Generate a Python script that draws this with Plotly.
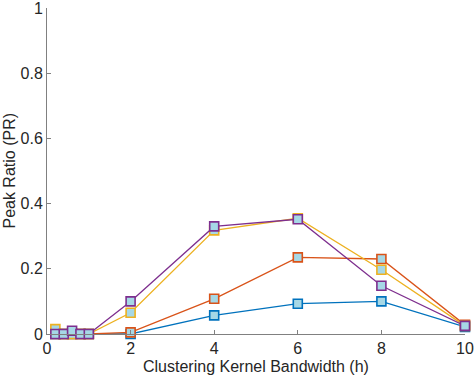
import plotly.graph_objects as go

bandwidth = [0.2, 0.4, 0.6, 0.8, 1, 2, 4, 6, 8, 10]
pr_blue = [0, 0, 0, 0, 0, 0.0, 0.057, 0.093, 0.100, 0.022]
pr_orange = [0, 0, 0, 0, 0, 0.005, 0.108, 0.235, 0.230, 0.028]
pr_yellow = [0.015, 0, 0, 0, 0, 0.065, 0.318, 0.355, 0.197, 0.025]
pr_purple = [0, 0, 0.01, 0, 0, 0.100, 0.330, 0.352, 0.148, 0.025]

x_ticks = [0, 2, 4, 6, 8, 10]
y_ticks = [0, 0.2, 0.4, 0.6, 0.8, 1]

C_FACE = "#a6d8e6"
C_AXIS = "#808080"
C_TEXT = "#262626"

series = [
    (pr_blue, "#0072BD"),
    (pr_orange, "#D95319"),
    (pr_yellow, "#EDB120"),
    (pr_purple, "#7E2F8E"),
]

fig = go.Figure()
for vals, color in series:
    fig.add_trace(go.Scatter(
        x=bandwidth,
        y=vals,
        mode="lines+markers",
        line=dict(color=color, width=1.3),
        marker=dict(symbol="square", size=9, color=C_FACE,
                    line=dict(color=color, width=1.6)),
        cliponaxis=False,
        showlegend=False,
    ))

axis_common = dict(
    showgrid=False,
    zeroline=False,
    showline=True,
    linecolor=C_AXIS,
    linewidth=1,
    ticks="inside",
    ticklen=4,
    tickcolor=C_AXIS,
    tickfont=dict(size=16, color=C_TEXT),
    ticklabeloverflow="allow",
    mirror=False,
    automargin=False,
)

fig.update_layout(
    width=476,
    height=382,
    paper_bgcolor="white",
    plot_bgcolor="white",
    margin=dict(l=47, r=11, t=8, b=48),
    font=dict(family="Liberation Sans, Arial, sans-serif", color=C_TEXT),
    xaxis=dict(
        range=[0, 10],
        tickvals=x_ticks,
        ticktext=[str(v) for v in x_ticks],
        **axis_common,
    ),
    yaxis=dict(
        range=[0, 1],
        tickvals=y_ticks,
        ticktext=["0", "0.2", "0.4", "0.6", "0.8", "1"],
        **axis_common,
    ),
    annotations=[
        dict(text="Clustering Kernel Bandwidth (h)", xref="paper", yref="paper",
             x=0.5, y=-0.068, yanchor="top", showarrow=False,
             font=dict(size=16, color=C_TEXT)),
        dict(text="Peak Ratio (PR)", xref="paper", yref="paper",
             x=-0.092, y=0.5, xanchor="center", textangle=-90, showarrow=False,
             font=dict(size=16, color=C_TEXT)),
    ],
)

# page body has a default margin; drop it so the figure sits at the window origin
fig.write_html("out.html", config={"displayModeBar": False},
               post_script="document.body.style.margin='0';")
